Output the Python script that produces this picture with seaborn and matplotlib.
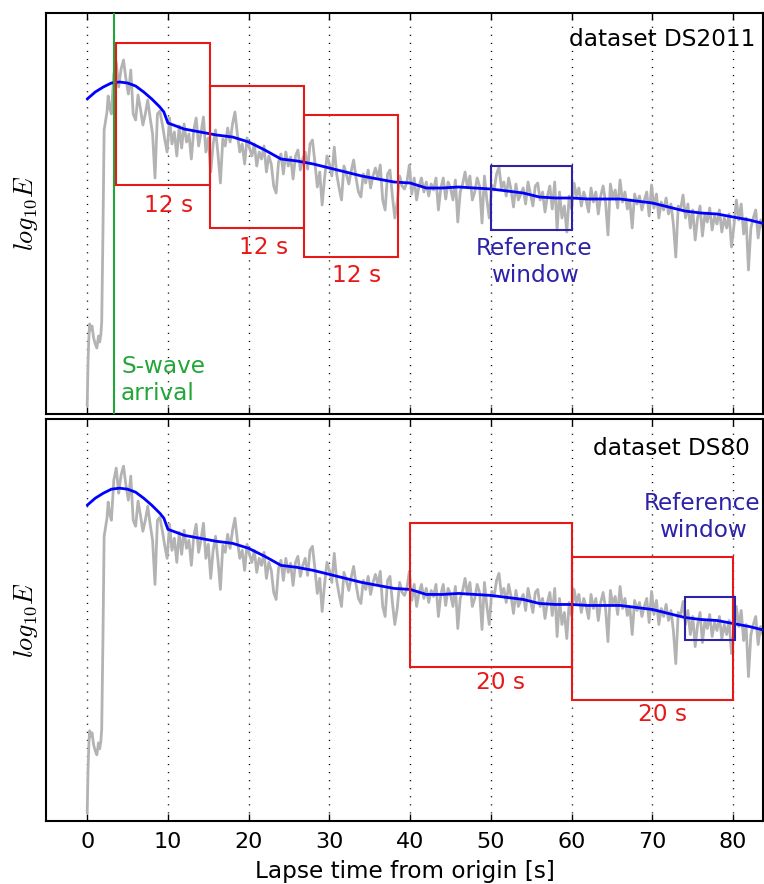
import numpy as np
import pandas as pd
import matplotlib
matplotlib.use("Agg")
import matplotlib.pyplot as plt
from matplotlib.patches import Rectangle
import seaborn as sns

# ---------------- data ----------------
# early part of the gray energy trace (time [s], log10E in arbitrary units)
early_time = [0.0, 0.05, 0.1, 0.2, 0.3, 0.45, 0.6, 0.8, 1.0, 1.2, 1.4, 1.55,
              1.7, 1.8, 1.95, 2.1, 2.25, 2.45, 2.6, 2.8]
early_val = [8, 30, 50, 75, 90, 84, 88, 76, 70, 66, 78, 72,
             80, 92, 180, 284, 292, 302, 318, 306]

# gray trace, sampled every 0.3 s from 3.0 s to 84.0 s
trace_start, trace_step = 3.0, 0.3
trace_val = [
    300, 340, 352, 327, 345, 354, 335, 320, 344, 300,
    294, 319, 305, 289, 300, 314, 296, 280, 236, 300,
    303, 290, 275, 262, 296, 270, 282, 258, 288, 266,
    290, 272, 280, 255, 284, 296, 268, 281, 297, 262,
    276, 242, 270, 284, 260, 231, 275, 268, 286, 272,
    290, 302, 280, 262, 270, 250, 276, 266, 258, 270,
    248, 262, 255, 268, 242, 258, 250, 228, 221, 252,
    260, 240, 262, 248, 257, 235, 258, 264, 244, 255,
    262, 245, 270, 274, 252, 227, 242, 209, 236, 258,
    250, 238, 267, 240, 226, 214, 248, 240, 230, 243,
    254, 236, 222, 217, 240, 231, 244, 226, 238, 246,
    236, 249, 214, 204, 240, 244, 218, 196, 212, 238,
    228, 225, 232, 249, 220, 236, 214, 228, 236, 222,
    232, 218, 230, 224, 236, 204, 226, 236, 215, 232,
    226, 214, 234, 192, 222, 230, 242, 226, 238, 214,
    222, 236, 228, 191, 238, 214, 196, 229, 224, 240,
    247, 226, 232, 218, 236, 224, 207, 230, 214, 220,
    226, 210, 232, 220, 208, 228, 231, 214, 222, 202,
    218, 228, 205, 232, 184, 222, 196, 208, 182, 218,
    205, 231, 218, 226, 208, 222, 214, 202, 226, 212,
    222, 200, 218, 228, 212, 179, 230, 216, 224, 206,
    234, 212, 222, 205, 214, 186, 220, 210, 218, 204,
    214, 222, 198, 229, 206, 220, 196, 212, 204, 216,
    200, 210, 190, 157, 208, 205, 219, 196, 210, 186,
    204, 174, 196, 208, 178, 200, 192, 206, 184, 198,
    190, 204, 182, 196, 186, 200, 167, 188, 214, 194,
    210, 180, 196, 144, 186, 196, 204, 176, 194, 186, 182,
]

# smooth (blue) curve
blue_time = [0, 1, 2, 3, 4, 5, 6, 7, 8, 9, 9.5, 10, 12, 14, 16, 18, 20, 22, 24,
             26, 28, 30, 32, 34, 36, 38, 40, 42, 44, 46, 48, 50, 52, 54, 56, 58,
             60, 62, 64, 66, 68, 70, 72, 74, 76, 78, 80, 82, 84]
blue_val = [315, 322, 327, 331, 332, 331, 328, 322, 315, 307, 302, 291, 285,
            282, 279, 277, 272, 264, 255, 253, 250, 246, 242, 238, 235, 232,
            231, 226, 226, 227, 226, 225, 223, 221, 217, 216, 216, 215, 215,
            215, 213, 211, 207, 203, 201, 200, 197, 194, 190]

s_arrival = 3.3

# windows: (t_start, t_end, y_bottom, y_top)
top_red_windows = [(3.6, 15.25, 229, 371), (15.25, 26.9, 186, 328), (26.9, 38.55, 157, 299)]
top_red_labels = [(10.1, 209, "12 s"), (21.8, 167, "12 s"), (33.4, 138, "12 s")]
top_ref_window = (50.0, 60.0, 184, 248)
bot_red_windows = [(40.0, 60.0, 154, 297), (60.0, 80.0, 121, 263)]
bot_red_labels = [(51.2, 138, "20 s"), (71.3, 106, "20 s")]
bot_ref_window = (74.0, 80.2, 181, 223)

xticks = [0, 10, 20, 30, 40, 50, 60, 70, 80]

# ---------------- build table ----------------
trace_time = list(trace_start + trace_step * np.arange(len(trace_val)))
gray_df = pd.DataFrame({"t": early_time + trace_time, "v": early_val + trace_val})
blue_df = pd.DataFrame({"t": blue_time, "v": blue_val})

sns.set_style("white")
plt.rcParams["font.family"] = ["DejaVu Sans"]
plt.rcParams["mathtext.fontset"] = "cm"
plt.rcParams["text.color"] = "black"
plt.rcParams["axes.labelcolor"] = "black"
plt.rcParams["xtick.color"] = "black"
plt.rcParams["xtick.labelcolor"] = "black"

W, H = 764, 884
fig = plt.figure(figsize=(W / 100, H / 100), dpi=100)
ax_top = fig.add_axes([46 / W, 1 - 414 / H, (763 - 46) / W, (414 - 13) / H])
ax_bot = fig.add_axes([46 / W, 1 - 821 / H, (763 - 46) / W, (821 - 419) / H])

RED = "#e81818"
REFC = "#2e22a8"
FS = 16.7

for ax in (ax_top, ax_bot):
    for xt in xticks:
        ax.axvline(xt, color="k", lw=1.0, dashes=(0.8, 5.0), zorder=0)
    sns.lineplot(data=gray_df, x="t", y="v", ax=ax, color="#b3b3b3", lw=2.0,
                 sort=False, estimator=None, zorder=2)
    sns.lineplot(data=blue_df, x="t", y="v", ax=ax, color="#0000ff", lw=2.0,
                 sort=False, estimator=None, zorder=3)
    ax.set_xlim(-5.1, 83.7)
    ax.set_ylim(0, 401)
    ax.set_yticks([])
    ax.set_xticks(xticks)
    ax.tick_params(axis="x", direction="in", top=True, bottom=True, length=5,
                   width=1, labelsize=16, pad=8, colors="black")
    ax.set_ylabel(r"$log_{10}E$", fontsize=19, labelpad=4, color="black")
    ax.set_xlabel("")
    for sp in ax.spines.values():
        sp.set_linewidth(1.5)
        sp.set_color("black")

ax_top.tick_params(axis="x", labelbottom=False)
ax_bot.set_xlabel("Lapse time from origin [s]", fontsize=FS, labelpad=6,
                  color="black")

# top panel annotations
ax_top.axvline(s_arrival, color="#22a637", lw=1.5, zorder=4)
ax_top.text(4.2, 34, "S-wave\narrival", color="#22a637", fontsize=FS,
            ha="left", va="center")
for (t0, t1, y0, y1) in top_red_windows:
    ax_top.add_patch(Rectangle((t0, y0), t1 - t0, y1 - y0, fill=False,
                               ec=RED, lw=1.5, zorder=5))
for (tx, ty, s) in top_red_labels:
    ax_top.text(tx, ty, s, color=RED, fontsize=FS, ha="center", va="center")
t0, t1, y0, y1 = top_ref_window
ax_top.add_patch(Rectangle((t0, y0), t1 - t0, y1 - y0, fill=False,
                           ec=REFC, lw=1.5, zorder=5))
ax_top.text(55.4, 152, "Reference\nwindow", color=REFC, fontsize=FS,
            ha="center", va="center")
ax_top.text(82.8, 374, "dataset DS2011", color="black", fontsize=FS,
            ha="right", va="center")

# bottom panel annotations
for (t0, t1, y0, y1) in bot_red_windows:
    ax_bot.add_patch(Rectangle((t0, y0), t1 - t0, y1 - y0, fill=False,
                               ec=RED, lw=1.5, zorder=5))
for (tx, ty, s) in bot_red_labels:
    ax_bot.text(tx, ty, s, color=RED, fontsize=FS, ha="center", va="center")
t0, t1, y0, y1 = bot_ref_window
ax_bot.add_patch(Rectangle((t0, y0), t1 - t0, y1 - y0, fill=False,
                           ec=REFC, lw=1.5, zorder=5))
ax_bot.text(76.2, 303, "Reference\nwindow", color=REFC, fontsize=FS,
            ha="center", va="center")
ax_bot.text(82.0, 372, "dataset DS80", color="black", fontsize=FS,
            ha="right", va="center")

fig.savefig("out.png", dpi=100)
